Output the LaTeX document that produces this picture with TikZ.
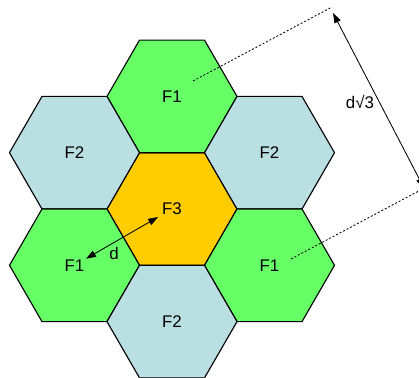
\documentclass[tikz,border=0pt]{standalone}
\usepackage{fontspec}
\setmainfont{Liberation Sans}
\usetikzlibrary{positioning, arrows.meta, shapes.geometric}

\definecolor{cellgreen}{HTML}{66FF66}
\definecolor{cellblue}{HTML}{B9DFE3}
\definecolor{cellorange}{HTML}{FFCC00}

\begin{document}
\begin{tikzpicture}[
        hexa/.style={draw, line width=0.8pt, regular polygon, regular polygon sides=6,
            minimum size=3.25cm, inner sep=0pt, outer sep=0pt, fill=#1, font=\fontsize{12}{14}\selectfont},
        hexa/.default=cellblue,
        lbl/.style={font=\fontsize{12}{14}\selectfont},
        dim/.style={dash pattern=on 1.4pt off 1.4pt, line width=0.6pt},
        arr/.style={{Triangle[length=2.5mm,width=1.7mm]}-{Triangle[length=2.5mm,width=1.7mm]}, line width=0.6pt},
    ]
    \useasboundingbox (-4.3,-4.2) rectangle (6.175,5.225);
    \clip (-4.3,-4.2) rectangle (6.175,5.225);

    % Cells
    \node[hexa=cellorange] (hc) at (0,0) {F3};
    \node[hexa=cellgreen] (ht) at (90:2.815) {F1};
    \node[hexa=cellblue] (hul) at (150:2.815) {F2};
    \node[hexa=cellblue] (hur) at (30:2.815) {F2};
    \node[hexa=cellgreen] (hll) at (210:2.815) {F1};
    \node[hexa=cellgreen] (hlr) at (330:2.815) {F1};
    \node[hexa=cellblue] (hb) at (270:2.815) {F2};

    % Reuse distance
    \coordinate (ta) at (0.525,3.2);
    \coordinate (tb) at (4.0,5.05);
    \coordinate (ra) at (2.975,-1.25);
    \coordinate (rb) at (6.45,0.6);
    \coordinate (pa) at (4.025,4.9);
    \coordinate (pb) at (6.3,0.525);
    \draw[dim] (ta) -- (tb);
    \draw[dim] (ra) -- (rb);
    \draw[arr] (pa) -- (pb);
    \node[lbl] (dsq) at (4.7,2.675) {d√3};

    % Cell radius
    \draw[arr, shorten <=0.33cm, shorten >=0.4cm] (hll.center) -- (hc.center);
    \node[lbl] (dlbl) at (-1.45,-1.1) {d};

\end{tikzpicture}
\end{document}
